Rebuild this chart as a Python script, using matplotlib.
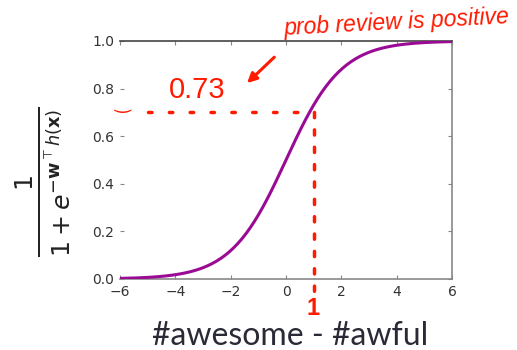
import numpy as np
import matplotlib
matplotlib.use("Agg")
import matplotlib.pyplot as plt

# data
x_range = [-6, 6]
score_x = np.linspace(-6, 6, 241)
xticks = [-6, -4, -2, 0, 2, 4, 6]
yticks = [0.0, 0.2, 0.4, 0.6, 0.8, 1.0]
example_score = 1
example_prob = 0.70
prob_label = "0.73"
note_text = "prob review is positive"
xlabel = "#awesome - #awful"

prob = 1.0 / (1.0 + np.exp(-score_x))

fig = plt.figure(figsize=(5.17, 3.5), dpi=100)
ax = fig.add_axes([0.2321, 0.2029, 0.6422, 0.68])
ax.plot(score_x, prob, color="#9a0a94", lw=2.2, solid_capstyle="round", zorder=3)
ax.set_xlim(*x_range)
ax.set_ylim(0, 1)
ax.set_xticks(xticks)
ax.set_yticks(yticks)
ax.set_xticklabels([f"{t}".replace("-", "\u2212") for t in xticks])
ax.set_yticklabels([f"{t:.1f}" for t in yticks])
ax.tick_params(direction="in", length=3, color="#888888", labelsize=10,
               labelcolor="#333333", pad=4, top=True, right=True)
ax.spines["left"].set_visible(False)
ax.spines["top"].set_color("#444444")
ax.spines["right"].set_color("#888888")
ax.spines["bottom"].set_color("#888888")
for s in ax.spines.values():
    s.set_linewidth(1.2)

# red dotted annotation lines
red = "#ff1a00"
ax.plot([-5.0, example_score], [example_prob, example_prob], color=red, lw=2.5,
        ls=(0, (1, 5)), dash_capstyle="round", clip_on=False, zorder=4)
ax.plot([example_score, example_score], [example_prob, -0.055], color=red, lw=2.5,
        ls=(0, (1.5, 3.5)), dash_capstyle="round", clip_on=False, zorder=4)

fig.text(0.381, 0.743, prob_label, color=red, fontsize=21, family="Liberation Sans",
         ha="center", va="center")
fig.text(0.768, 0.935, note_text, color=red, fontsize=16.5, family="Liberation Sans",
         ha="center", va="center", style="italic", rotation=3)
fig.text(0.606, 0.118, str(example_score), color=red, fontsize=17, family="Liberation Sans",
         ha="center", va="center", weight="bold")
ax.annotate("", xy=(-1.48, 0.815), xytext=(-0.35, 0.94), xycoords="data",
            arrowprops=dict(arrowstyle="-|>", color=red, lw=2.2, mutation_scale=14),
            annotation_clip=False)
fig.text(0.237, 0.705, "\u203f", color=red, fontsize=14, ha="center", va="center",
         family="DejaVu Sans")

fig.text(0.561, 0.013, xlabel, fontsize=23, family="Lato", color="#2a2a36",
         ha="center", va="baseline")
fig.text(0.083, 0.48, r"$\frac{1}{1+e^{-\mathbf{w}^\top h(\mathbf{x})}}$", fontsize=26,
         rotation=90, ha="center", va="center", color="#222222")

fig.savefig("out.png", dpi=100)
